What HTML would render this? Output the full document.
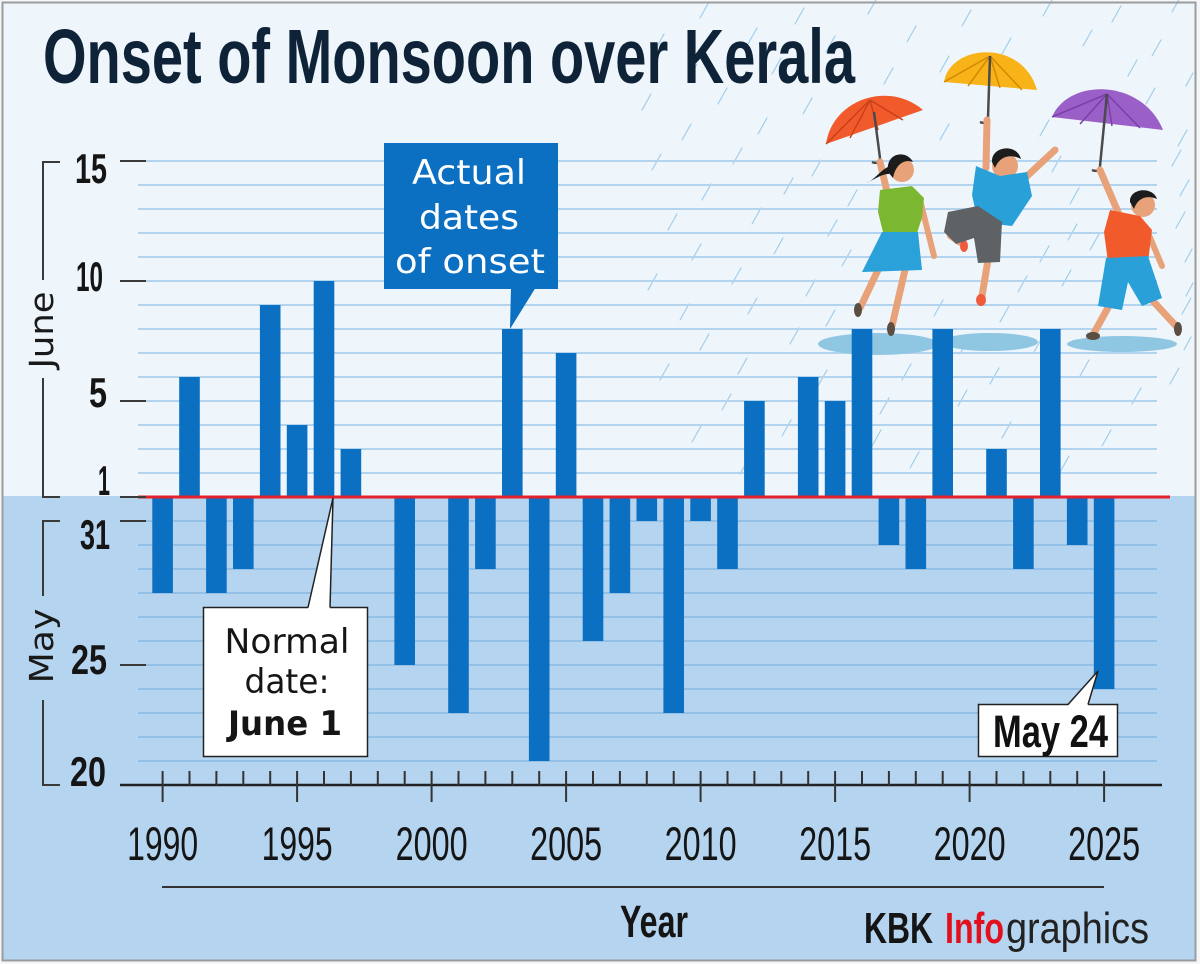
<!DOCTYPE html>
<html>
<head>
<meta charset="utf-8">
<style>
html,body{margin:0;padding:0;background:#ffffff;}
svg{display:block;}
</style>
</head>
<body>
<svg width="1200" height="964" viewBox="0 0 1200 964" xmlns="http://www.w3.org/2000/svg">
  <!-- backgrounds -->
  <rect x="0" y="0" width="1200" height="964" fill="#f4f6f8"/>
  <rect x="3" y="3" width="1192" height="494" fill="#eef6fc"/>
  <rect x="3" y="496" width="1192" height="465" fill="#b5d4ef"/>

  <!-- rain streaks -->
  <path stroke="#a2cdeb" stroke-width="1.2" stroke-linecap="round" fill="none" d="
    M700,18 l9,-16 M795,24 l9,-16 M868,14 l9,-16 M962,26 l9,-16 M1043,16 l9,-16 M1112,22 l9,-16 M1172,12 l9,-16
    M655,50 l9,-16 M748,44 l9,-16 M826,52 l9,-16 M907,42 l9,-16 M1002,54 l9,-16 M1083,46 l9,-16 M1152,56 l9,-16
    M688,80 l9,-16 M772,74 l9,-16 M884,84 l9,-16 M1128,76 l9,-16 M1186,86 l7,-13 M940,72 l9,-16
    M642,110 l9,-16 M718,104 l9,-16 M803,114 l9,-16 M1064,112 l9,-16 M1146,104 l9,-16
    M682,140 l9,-16 M758,134 l9,-16 M1178,146 l9,-16 M940,140 l9,-16 M1040,136 l9,-16
    M652,170 l9,-16 M733,164 l9,-16 M812,176 l9,-16 M1052,172 l9,-16 M1172,166 l9,-16
    M702,200 l9,-16 M784,194 l9,-16 M848,206 l9,-16 M1070,204 l9,-16 M1180,196 l9,-16
    M668,230 l9,-16 M752,224 l9,-16 M828,236 l9,-16 M948,232 l9,-16 M1068,240 l9,-16 M1176,228 l9,-16
    M692,260 l9,-16 M774,254 l9,-16 M842,266 l9,-16 M1040,262 l9,-16 M1090,250 l9,-16 M1185,262 l7,-13
    M648,290 l9,-16 M732,284 l9,-16 M806,296 l9,-16 M1018,292 l9,-16 M1062,286 l9,-16 M1186,296 l7,-13
    M680,320 l9,-16 M748,314 l9,-16 M826,326 l9,-16 M934,316 l9,-16 M1000,322 l9,-16 M1182,314 l9,-16
    M700,350 l9,-16 M790,344 l9,-16 M960,354 l9,-16 M1034,352 l9,-16 M1184,350 l7,-13
    M660,380 l9,-16 M738,374 l9,-16 M818,386 l9,-16 M902,380 l9,-16 M990,384 l9,-16 M1080,376 l9,-16 M1170,384 l9,-16
    M722,410 l9,-16 M802,404 l9,-16 M880,414 l9,-16 M958,406 l9,-16 M1042,412 l9,-16 M1132,404 l9,-16
    M692,442 l9,-16 M782,436 l9,-16 M872,446 l9,-16 M1002,438 l9,-16 M1102,446 l9,-16
    M740,474 l9,-16 M910,468 l9,-16 M1060,472 l9,-16"/>

  <!-- gridlines upper -->
  <g stroke="#b3d4ee" stroke-width="2">
    <line x1="146" y1="161" x2="1157" y2="161"/>
    <line x1="138" y1="185" x2="1157" y2="185"/>
    <line x1="138" y1="209" x2="1157" y2="209"/>
    <line x1="138" y1="233" x2="1157" y2="233"/>
    <line x1="138" y1="257" x2="1157" y2="257"/>
    <line x1="146" y1="281" x2="1157" y2="281"/>
    <line x1="138" y1="305" x2="1157" y2="305"/>
    <line x1="138" y1="329" x2="1157" y2="329"/>
    <line x1="138" y1="353" x2="1157" y2="353"/>
    <line x1="138" y1="377" x2="1157" y2="377"/>
    <line x1="146" y1="401" x2="1157" y2="401"/>
    <line x1="138" y1="425" x2="1157" y2="425"/>
    <line x1="138" y1="449" x2="1157" y2="449"/>
    <line x1="138" y1="473" x2="1157" y2="473"/>
  </g>
  <!-- gridlines lower -->
  <g stroke="#93c0e4" stroke-width="2">
    <line x1="146" y1="521" x2="1157" y2="521"/>
    <line x1="138" y1="545" x2="1157" y2="545"/>
    <line x1="138" y1="569" x2="1157" y2="569"/>
    <line x1="138" y1="593" x2="1157" y2="593"/>
    <line x1="138" y1="617" x2="1157" y2="617"/>
    <line x1="138" y1="641" x2="1157" y2="641"/>
    <line x1="146" y1="665" x2="1157" y2="665"/>
    <line x1="138" y1="689" x2="1157" y2="689"/>
    <line x1="138" y1="713" x2="1157" y2="713"/>
    <line x1="138" y1="737" x2="1157" y2="737"/>
    <line x1="138" y1="761" x2="1157" y2="761"/>
  </g>

  <!-- puddles -->
  <g fill="#8fc7e2">
    <ellipse cx="878" cy="344" rx="60" ry="11"/>
    <ellipse cx="990" cy="342" rx="48" ry="9"/>
    <ellipse cx="1122" cy="344" rx="55" ry="8"/>
  </g>

  <!-- bars -->
  <g fill="#0b6fc2">
    <rect x="152.3" y="497" width="20.6" height="96"/>
    <rect x="179.2" y="377" width="20.6" height="120"/>
    <rect x="206.1" y="497" width="20.6" height="96"/>
    <rect x="233.0" y="497" width="20.6" height="72"/>
    <rect x="259.9" y="305" width="20.6" height="192"/>
    <rect x="286.8" y="425" width="20.6" height="72"/>
    <rect x="313.7" y="281" width="20.6" height="216"/>
    <rect x="340.6" y="449" width="20.6" height="48"/>
    <rect x="394.4" y="497" width="20.6" height="168"/>
    <rect x="448.2" y="497" width="20.6" height="216"/>
    <rect x="475.1" y="497" width="20.6" height="72"/>
    <rect x="502.0" y="329" width="20.6" height="168"/>
    <rect x="528.9" y="497" width="20.6" height="264"/>
    <rect x="555.8" y="353" width="20.6" height="144"/>
    <rect x="582.7" y="497" width="20.6" height="144"/>
    <rect x="609.6" y="497" width="20.6" height="96"/>
    <rect x="636.5" y="497" width="20.6" height="24"/>
    <rect x="663.4" y="497" width="20.6" height="216"/>
    <rect x="690.3" y="497" width="20.6" height="24"/>
    <rect x="717.2" y="497" width="20.6" height="72"/>
    <rect x="744.1" y="401" width="20.6" height="96"/>
    <rect x="797.9" y="377" width="20.6" height="120"/>
    <rect x="824.8" y="401" width="20.6" height="96"/>
    <rect x="851.7" y="329" width="20.6" height="168"/>
    <rect x="878.6" y="497" width="20.6" height="48"/>
    <rect x="905.5" y="497" width="20.6" height="72"/>
    <rect x="932.4" y="329" width="20.6" height="168"/>
    <rect x="986.2" y="449" width="20.6" height="48"/>
    <rect x="1013.1" y="497" width="20.6" height="72"/>
    <rect x="1040.0" y="329" width="20.6" height="168"/>
    <rect x="1066.9" y="497" width="20.6" height="48"/>
    <rect x="1093.8" y="497" width="20.6" height="192"/>
  </g>

  <!-- red normal line -->
  <line x1="138" y1="497" x2="1170" y2="497" stroke="#e3202b" stroke-width="3"/>

  <!-- y-axis ticks -->
  <g stroke="#3a3a3a" stroke-width="2">
    <line x1="120" y1="161" x2="146" y2="161"/>
    <line x1="120" y1="281" x2="146" y2="281"/>
    <line x1="120" y1="401" x2="146" y2="401"/>
    <line x1="120" y1="497" x2="146" y2="497"/>
    <line x1="120" y1="521" x2="146" y2="521"/>
    <line x1="120" y1="665" x2="146" y2="665"/>
  </g>
  <!-- brackets -->
  <path d="M60,162 H43 V280 M43,378 V497 H60" stroke="#3a3a3a" stroke-width="2" fill="none"/>
  <path d="M60,521 H43 V596 M43,700 V785 H60" stroke="#3a3a3a" stroke-width="2" fill="none"/>
  <text transform="translate(53,330) rotate(-90)" text-anchor="middle" font-family="'DejaVu Sans','Liberation Sans',sans-serif" font-size="33" fill="#1a1a1a" textLength="77" lengthAdjust="spacingAndGlyphs">June</text>
  <text transform="translate(53,646) rotate(-90)" text-anchor="middle" font-family="'DejaVu Sans','Liberation Sans',sans-serif" font-size="33" fill="#1a1a1a" textLength="75" lengthAdjust="spacingAndGlyphs">May</text>

  <!-- y labels -->
  <g font-family="'Liberation Sans Narrow','Liberation Sans',sans-serif" font-weight="700" font-size="42" fill="#151515" text-anchor="end">
    <text x="107" y="183" textLength="32" lengthAdjust="spacingAndGlyphs">15</text>
    <text x="103" y="291" textLength="27" lengthAdjust="spacingAndGlyphs">10</text>
    <text x="107" y="407" textLength="18" lengthAdjust="spacingAndGlyphs">5</text>
    <text x="110" y="495" textLength="12" lengthAdjust="spacingAndGlyphs">1</text>
    <text x="110" y="549" textLength="30" lengthAdjust="spacingAndGlyphs">31</text>
    <text x="107" y="674" textLength="36" lengthAdjust="spacingAndGlyphs">25</text>
    <text x="106" y="786" textLength="36" lengthAdjust="spacingAndGlyphs">20</text>
  </g>

  <!-- x axis -->
  <line x1="120" y1="785" x2="1162" y2="785" stroke="#222" stroke-width="2.5"/>
  <g stroke="#333" stroke-width="2">
    <line x1="162.6" y1="771" x2="162.6" y2="802"/>
    <line x1="189.5" y1="771" x2="189.5" y2="785"/>
    <line x1="216.4" y1="771" x2="216.4" y2="785"/>
    <line x1="243.3" y1="771" x2="243.3" y2="785"/>
    <line x1="270.2" y1="771" x2="270.2" y2="785"/>
    <line x1="297.1" y1="771" x2="297.1" y2="802"/>
    <line x1="324.0" y1="771" x2="324.0" y2="785"/>
    <line x1="350.9" y1="771" x2="350.9" y2="785"/>
    <line x1="377.8" y1="771" x2="377.8" y2="785"/>
    <line x1="404.7" y1="771" x2="404.7" y2="785"/>
    <line x1="431.6" y1="771" x2="431.6" y2="802"/>
    <line x1="458.5" y1="771" x2="458.5" y2="785"/>
    <line x1="485.4" y1="771" x2="485.4" y2="785"/>
    <line x1="512.3" y1="771" x2="512.3" y2="785"/>
    <line x1="539.2" y1="771" x2="539.2" y2="785"/>
    <line x1="566.1" y1="771" x2="566.1" y2="802"/>
    <line x1="593.0" y1="771" x2="593.0" y2="785"/>
    <line x1="619.9" y1="771" x2="619.9" y2="785"/>
    <line x1="646.8" y1="771" x2="646.8" y2="785"/>
    <line x1="673.7" y1="771" x2="673.7" y2="785"/>
    <line x1="700.6" y1="771" x2="700.6" y2="802"/>
    <line x1="727.5" y1="771" x2="727.5" y2="785"/>
    <line x1="754.4" y1="771" x2="754.4" y2="785"/>
    <line x1="781.3" y1="771" x2="781.3" y2="785"/>
    <line x1="808.2" y1="771" x2="808.2" y2="785"/>
    <line x1="835.1" y1="771" x2="835.1" y2="802"/>
    <line x1="862.0" y1="771" x2="862.0" y2="785"/>
    <line x1="888.9" y1="771" x2="888.9" y2="785"/>
    <line x1="915.8" y1="771" x2="915.8" y2="785"/>
    <line x1="942.7" y1="771" x2="942.7" y2="785"/>
    <line x1="969.6" y1="771" x2="969.6" y2="802"/>
    <line x1="996.5" y1="771" x2="996.5" y2="785"/>
    <line x1="1023.4" y1="771" x2="1023.4" y2="785"/>
    <line x1="1050.3" y1="771" x2="1050.3" y2="785"/>
    <line x1="1077.2" y1="771" x2="1077.2" y2="785"/>
    <line x1="1104.1" y1="771" x2="1104.1" y2="802"/>
  </g>

  <!-- year labels -->
  <g font-family="'Liberation Sans Narrow','Liberation Sans',sans-serif" font-size="47" fill="#151515" text-anchor="middle">
    <text x="162.6" y="860" textLength="71" lengthAdjust="spacingAndGlyphs">1990</text>
    <text x="297.1" y="860" textLength="71" lengthAdjust="spacingAndGlyphs">1995</text>
    <text x="431.6" y="860" textLength="72" lengthAdjust="spacingAndGlyphs">2000</text>
    <text x="566.1" y="860" textLength="72" lengthAdjust="spacingAndGlyphs">2005</text>
    <text x="700.6" y="860" textLength="72" lengthAdjust="spacingAndGlyphs">2010</text>
    <text x="835.1" y="860" textLength="72" lengthAdjust="spacingAndGlyphs">2015</text>
    <text x="969.6" y="860" textLength="72" lengthAdjust="spacingAndGlyphs">2020</text>
    <text x="1104.1" y="860" textLength="72" lengthAdjust="spacingAndGlyphs">2025</text>
  </g>
  <line x1="162" y1="887" x2="1104" y2="887" stroke="#333" stroke-width="2"/>

  <!-- Year / credit -->
  <text x="620" y="937" font-family="'Liberation Sans Narrow','Liberation Sans',sans-serif" font-weight="700" font-size="45" fill="#151515" textLength="68" lengthAdjust="spacingAndGlyphs">Year</text>
  <text x="864" y="943" font-family="'Liberation Sans Narrow','Liberation Sans',sans-serif" font-weight="700" font-size="44" fill="#151515" textLength="69" lengthAdjust="spacingAndGlyphs">KBK</text>
  <text x="945" y="943" font-family="'Liberation Sans Narrow','Liberation Sans',sans-serif" font-weight="700" font-size="44" fill="#e0101e" textLength="59" lengthAdjust="spacingAndGlyphs">Info</text>
  <text x="1006" y="943" font-family="'Liberation Sans Narrow','Liberation Sans',sans-serif" font-size="44" fill="#222" textLength="143" lengthAdjust="spacingAndGlyphs">graphics</text>

  <!-- Title -->
  <text x="43" y="83" font-family="'Liberation Sans Narrow','Liberation Sans',sans-serif" font-weight="700" font-size="77" fill="#0e2337" textLength="812" lengthAdjust="spacingAndGlyphs">Onset of Monsoon over Kerala</text>

  <!-- Actual dates callout -->
  <rect x="384" y="143" width="174" height="146" fill="#0b6fc2"/>
  <polygon points="511,287 536,287 510,329" fill="#0b6fc2"/>
  <g font-family="'DejaVu Sans','Liberation Sans',sans-serif" font-size="34" fill="#ffffff" text-anchor="middle">
    <text x="469" y="184" textLength="114" lengthAdjust="spacingAndGlyphs">Actual</text>
    <text x="469" y="229" textLength="100" lengthAdjust="spacingAndGlyphs">dates</text>
    <text x="470" y="273" textLength="150" lengthAdjust="spacingAndGlyphs">of onset</text>
  </g>

  <!-- Normal date callout -->
  <rect x="203.5" y="607.5" width="164" height="149" fill="#ffffff" stroke="#222" stroke-width="1.5"/>
  <polygon points="308,608.5 333,498 330,608.5" fill="#ffffff"/>
  <path d="M308,607.5 L333,498 L330,607.5" stroke="#222" stroke-width="1.5" fill="none"/>
  <g font-family="'DejaVu Sans','Liberation Sans',sans-serif" font-size="34" fill="#151515" text-anchor="middle">
    <text x="287" y="653" textLength="125" lengthAdjust="spacingAndGlyphs">Normal</text>
    <text x="287" y="693" textLength="85" lengthAdjust="spacingAndGlyphs">date:</text>
    <text x="285" y="735" font-weight="700" textLength="114" lengthAdjust="spacingAndGlyphs">June 1</text>
  </g>

  <!-- May 24 callout -->
  <rect x="978.5" y="704.5" width="139" height="52" fill="#ffffff" stroke="#222" stroke-width="1.5"/>
  <polygon points="1068,705.5 1098,671 1088,705.5" fill="#ffffff"/>
  <path d="M1068,704.5 L1098,671 L1088,704.5" stroke="#222" stroke-width="1.5" fill="none"/>
  <text x="993" y="747" font-family="'Liberation Sans Narrow','Liberation Sans',sans-serif" font-weight="700" font-size="45" fill="#111" textLength="115" lengthAdjust="spacingAndGlyphs">May 24</text>

  <!-- Illustration: kids with umbrellas -->
  <g>
    <!-- Girl -->
    <path d="M826,144 C832,100 888,80 923,110 Z" fill="#f15a2b"/>
    <g stroke="#c9401b" stroke-width="1.5" fill="none">
      <path d="M870,100 L826,144 M870,100 L850,138 M870,100 L878,130 M870,100 L903,120"/>
    </g>
    <line x1="874" y1="112" x2="880" y2="158" stroke="#4a4a4a" stroke-width="2.5"/>
    <path d="M880,158 q-1,7 -8,4" stroke="#4a4a4a" stroke-width="2.5" fill="none"/>
    <line x1="880" y1="162" x2="888" y2="196" stroke="#e8a27a" stroke-width="7" stroke-linecap="round"/>
    <line x1="920" y1="200" x2="934" y2="256" stroke="#e8a27a" stroke-width="6" stroke-linecap="round"/>
    <line x1="878" y1="270" x2="860" y2="308" stroke="#e8a27a" stroke-width="7" stroke-linecap="round"/>
    <line x1="905" y1="270" x2="892" y2="326" stroke="#e8a27a" stroke-width="7" stroke-linecap="round"/>
    <ellipse cx="858" cy="310" rx="4" ry="7" fill="#5b4e42"/>
    <ellipse cx="891" cy="329" rx="4" ry="7" fill="#5b4e42"/>
    <circle cx="902" cy="170" r="12" fill="#e8a27a"/>
    <path d="M888,172 C885,153 906,149 913,162 C905,159 896,163 893,178 Z" fill="#1c1c1c"/>
    <path d="M890,166 C880,170 875,180 866,183 C877,178 882,174 889,174 Z" fill="#1c1c1c"/>
    <polygon points="880,190 912,186 924,198 922,218 916,236 884,236 878,212" fill="#7cb732"/>
    <polygon points="882,232 918,232 922,270 862,272" fill="#2ba1da"/>

    <!-- Middle boy -->
    <path d="M944,82 C950,44 1022,38 1037,90 Z" fill="#f8b318"/>
    <g stroke="#d08a00" stroke-width="1.5" fill="none">
      <path d="M990,56 L944,82 M990,56 L968,86 M990,56 L1000,88 M990,56 L1022,90"/>
    </g>
    <line x1="990" y1="56" x2="988" y2="118" stroke="#4a4a4a" stroke-width="2.5"/>
    <path d="M988,118 q-1,7 -8,4" stroke="#4a4a4a" stroke-width="2.5" fill="none"/>
    <line x1="987" y1="120" x2="986" y2="168" stroke="#e8a27a" stroke-width="7" stroke-linecap="round"/>
    <line x1="1025" y1="178" x2="1055" y2="150" stroke="#e8a27a" stroke-width="7" stroke-linecap="round"/>
    <line x1="988" y1="260" x2="982" y2="296" stroke="#e8a27a" stroke-width="7" stroke-linecap="round"/>
    <line x1="950" y1="236" x2="962" y2="244" stroke="#e8a27a" stroke-width="6" stroke-linecap="round"/>
    <ellipse cx="964" cy="246" rx="4" ry="6" fill="#f05a3c"/>
    <ellipse cx="981" cy="300" rx="5" ry="6" fill="#f05a3c"/>
    <circle cx="1005" cy="166" r="13" fill="#e8a27a"/>
    <path d="M992,162 C991,146 1017,143 1021,159 C1012,154 1000,155 995,168 Z" fill="#1c1c1c"/>
    <polygon points="976,166 1000,176 1027,172 1032,196 1012,226 978,222 972,195" fill="#2aa0d8"/>
    <polygon points="948,212 978,206 1002,222 1000,262 978,263 974,238 956,244 944,232" fill="#5e6264"/>

    <!-- Right boy -->
    <path d="M1052,117 C1068,78 1142,78 1163,130 Z" fill="#9b5fc8"/>
    <g stroke="#7a3fa8" stroke-width="1.5" fill="none">
      <path d="M1107,94 L1052,117 M1107,94 L1080,124 M1107,94 L1112,126 M1107,94 L1140,128"/>
    </g>
    <line x1="1107" y1="94" x2="1100" y2="166" stroke="#4a4a4a" stroke-width="2.5"/>
    <path d="M1100,166 q-1,7 -8,4" stroke="#4a4a4a" stroke-width="2.5" fill="none"/>
    <line x1="1100" y1="170" x2="1118" y2="212" stroke="#e8a27a" stroke-width="7" stroke-linecap="round"/>
    <line x1="1146" y1="228" x2="1162" y2="266" stroke="#e8a27a" stroke-width="6" stroke-linecap="round"/>
    <line x1="1110" y1="304" x2="1094" y2="333" stroke="#e8a27a" stroke-width="7" stroke-linecap="round"/>
    <line x1="1152" y1="300" x2="1176" y2="326" stroke="#e8a27a" stroke-width="7" stroke-linecap="round"/>
    <ellipse cx="1093" cy="336" rx="7" ry="4" fill="#5b4e42"/>
    <ellipse cx="1178" cy="329" rx="4" ry="7" fill="#5b4e42"/>
    <circle cx="1143" cy="205" r="12" fill="#e8a27a"/>
    <path d="M1130,202 C1129,188 1153,186 1157,199 C1148,195 1138,197 1134,209 Z" fill="#1c1c1c"/>
    <polygon points="1110,210 1140,216 1152,230 1148,262 1108,262 1104,232" fill="#f15a2b"/>
    <polygon points="1106,258 1148,256 1162,298 1142,306 1128,282 1122,310 1098,306" fill="#2aa0d8"/>
  </g>

  <!-- frame -->
  <rect x="2.5" y="2.5" width="1193" height="958" fill="none" stroke="#9c9c9c" stroke-width="2"/>
</svg>
</body>
</html>
